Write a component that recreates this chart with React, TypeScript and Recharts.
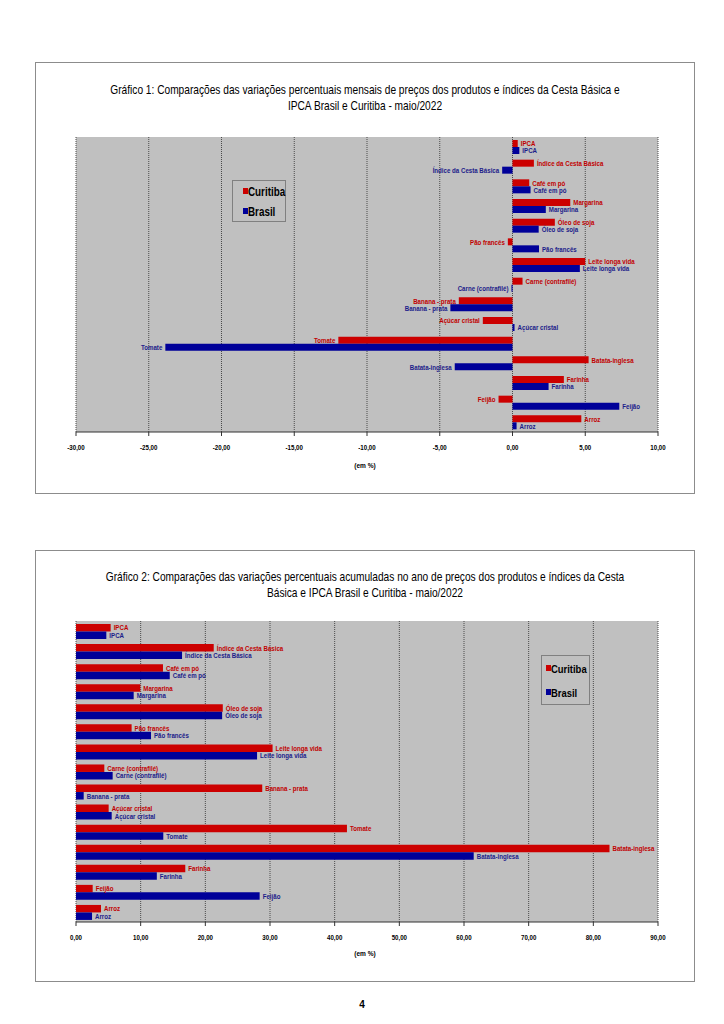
import React from 'react';
import { BarChart, Bar, XAxis, YAxis, CartesianGrid, LabelList } from 'recharts';

const categories = [
  'IPCA',
  'Índice da Cesta Básica',
  'Café em pó',
  'Margarina',
  'Óleo de soja',
  'Pão francês',
  'Leite longa vida',
  'Carne (contrafilé)',
  'Banana - prata',
  'Açúcar cristal',
  'Tomate',
  'Batata-inglesa',
  'Farinha',
  'Feijão',
  'Arroz',
];

const curitibaMensal = [0.36, 1.47, 1.15, 3.97, 2.91, -0.32, 5.0, 0.69, -3.69, -2.04, -11.97, 5.23, 3.53, -0.96, 4.73];
const brasilMensal = [0.47, -0.71, 1.24, 2.29, 1.8, 1.82, 4.63, -0.07, -4.27, 0.14, -23.86, -3.97, 2.48, 7.34, 0.28];

const curitibaAno = [5.36, 21.3, 13.45, 9.95, 22.7, 8.6, 30.4, 4.38, 28.8, 5.05, 41.9, 82.5, 16.9, 2.58, 3.87];
const brasilAno = [4.69, 16.4, 14.5, 8.92, 22.6, 11.6, 28.0, 5.67, 1.19, 5.52, 13.5, 61.5, 12.5, 28.4, 2.48];

const ticksMensal = [-30, -25, -20, -15, -10, -5, 0, 5, 10];
const ticksAno = [0, 10, 20, 30, 40, 50, 60, 70, 80, 90];

const seriesNames = ['Curitiba', 'Brasil'];
const title1 = [
  'Gráfico 1: Comparações das variações percentuais mensais de preços dos produtos e índices da Cesta Básica e',
  'IPCA Brasil e Curitiba - maio/2022',
];
const title2 = [
  'Gráfico 2: Comparações das variações percentuais acumuladas no ano de preços dos produtos e índices da Cesta',
  'Básica e IPCA Brasil e Curitiba - maio/2022',
];
const axisTitle = '(em %)';

const RED = '#cc0000';
const BLUE = '#000099';
const RED_TXT = '#c00000';
const BLUE_TXT = '#1c1c8a';
const FONT = "'Liberation Sans', Arial, sans-serif";
const NARROW_SCALE = 0.82;

const fmt = (v: number) => v.toFixed(2).replace('.', ',');

const buildData = (c: number[], b: number[]) =>
  categories.map((name, i) => ({ name, curitiba: c[i], brasil: b[i] }));

const dataMensal = buildData(curitibaMensal, brasilMensal);
const dataAno = buildData(curitibaAno, brasilAno);

const makeLabel = (values: number[], color: string) => (props: any) => {
  const vb = props.viewBox || {};
  const x = Number(props.x ?? vb.x ?? 0);
  const y = Number(props.y ?? vb.y ?? 0);
  const w = Number(props.width ?? vb.width ?? 0);
  const h = Number(props.height ?? vb.height ?? 0);
  const idx = props.index;
  const val = typeof idx === 'number' ? values[idx] : Number(props.value);
  const name = typeof idx === 'number' ? categories[idx] : '';
  const left = Math.min(x, x + w);
  const right = Math.max(x, x + w);
  const pos = val >= 0;
  const tx = pos ? right + 3 : left - 3;
  return (
    <g transform={`translate(${tx},${y + h / 2}) scale(${NARROW_SCALE},1)`}>
      <text
        x={0}
        y={0}
        textAnchor={pos ? 'start' : 'end'}
        dominantBaseline="central"
        fill={color}
        fontSize={7.5}
        fontWeight="bold"
        fontFamily={FONT}
      >
        {name}
      </text>
    </g>
  );
};

const NarrowTick = (props: any) => {
  const { x, y, payload } = props;
  return (
    <g transform={`translate(${x},${y}) scale(${NARROW_SCALE},1)`}>
      <text x={0} y={0} dy={12} textAnchor="middle" fontSize={7.5} fontWeight="bold" fill="#000" fontFamily={FONT}>
        {fmt(payload.value)}
      </text>
    </g>
  );
};

type LegendProps = {
  left: number;
  top: number;
  width: number;
  height: number;
  itemLeft: number;
  rowCenters: number[];
  fontSize: number;
};

const Legend = ({ left, top, width, height, itemLeft, rowCenters, fontSize }: LegendProps) => (
  <div
    style={{
      position: 'absolute',
      left,
      top,
      width,
      height,
      border: '1px solid #808080',
      boxSizing: 'border-box',
      fontFamily: FONT,
      fontWeight: 'bold',
      fontSize,
      color: '#000',
    }}
  >
    {seriesNames.map((s, i) => (
      <React.Fragment key={s}>
        <span
          style={{
            position: 'absolute',
            left: itemLeft,
            top: rowCenters[i] - 4,
            width: 5,
            height: 6,
            background: i === 0 ? RED : BLUE,
          }}
        />
        <span
          style={{
            position: 'absolute',
            left: itemLeft + 5,
            top: rowCenters[i] - 8,
            lineHeight: '16px',
            whiteSpace: 'nowrap',
            transform: `scaleX(${NARROW_SCALE})`,
            transformOrigin: 'left center',
          }}
        >
          {s}
        </span>
      </React.Fragment>
    ))}
  </div>
);

type PanelProps = {
  top: number;
  title: string[];
  data: any[];
  c: number[];
  b: number[];
  domain: [number, number];
  ticks: number[];
  barSize: number;
  marginTop: number;
  marginBottom: number;
  legend: LegendProps;
  titleTop: number;
  axisTitleTop: number;
};

const Panel = (p: PanelProps) => (
  <div
    style={{
      position: 'absolute',
      left: 27,
      top: p.top,
      width: 660,
      height: 432,
      border: '1px solid #8c8c8c',
      boxSizing: 'border-box',
      background: '#fff',
    }}
  >
    <div
      style={{
        position: 'absolute',
        left: 0,
        top: p.titleTop,
        width: 658,
        textAlign: 'center',
        fontFamily: FONT,
        fontSize: 12.4,
        lineHeight: '16px',
        color: '#000',
        whiteSpace: 'nowrap',
        transform: `scaleX(${NARROW_SCALE})`,
        transformOrigin: 'center',
      }}
    >
      <div>{p.title[0]}</div>
      <div>{p.title[1]}</div>
    </div>
    <div style={{ position: 'absolute', left: -1, top: -1 }}>
      <BarChart
        width={660}
        height={432}
        data={p.data}
        layout="vertical"
        margin={{ top: p.marginTop, right: 37, bottom: p.marginBottom, left: 41 }}
        barGap={0}
        barSize={p.barSize}
      >
        <CartesianGrid
          horizontal={false}
          fill="#c0c0c0"
          stroke="#4a4a4a"
          strokeDasharray="1 1"
          fillOpacity={1}
        />
        <XAxis
          type="number"
          domain={p.domain}
          ticks={p.ticks}
          tickFormatter={fmt}
          interval={0}
          axisLine={{ stroke: '#333' }}
          tickLine={{ stroke: '#333' }}
          tickSize={4}
          tick={<NarrowTick />}
          height={30}
        />
        <YAxis type="category" dataKey="name" hide />
        <Bar dataKey="curitiba" fill={RED} isAnimationActive={false}>
          <LabelList dataKey="curitiba" content={makeLabel(p.c, RED_TXT)} />
        </Bar>
        <Bar dataKey="brasil" fill={BLUE} isAnimationActive={false}>
          <LabelList dataKey="brasil" content={makeLabel(p.b, BLUE_TXT)} />
        </Bar>
      </BarChart>
    </div>
    <div
      style={{
        position: 'absolute',
        left: 0,
        top: p.axisTitleTop,
        width: 658,
        textAlign: 'center',
        fontFamily: FONT,
        fontSize: 8,
        fontWeight: 'bold',
        color: '#000',
        transform: `scaleX(${NARROW_SCALE})`,
      }}
    >
      {axisTitle}
    </div>
    <Legend {...p.legend} />
  </div>
);

export default function App() {
  return (
    <div style={{ position: 'relative', width: 708, height: 1008 }}>
      <Panel
        top={54}
        title={title1}
        data={dataMensal}
        c={curitibaMensal}
        b={brasilMensal}
        domain={[-30, 10]}
        ticks={ticksMensal}
        barSize={7}
        marginTop={75}
        marginBottom={32}
        legend={{ left: 196, top: 117, width: 54, height: 42, itemLeft: 10, rowCenters: [11, 31], fontSize: 12 }}
        titleTop={19}
        axisTitleTop={398}
      />
      <Panel
        top={542}
        title={title2}
        data={dataAno}
        c={curitibaAno}
        b={brasilAno}
        domain={[0, 90]}
        ticks={ticksAno}
        barSize={7.5}
        marginTop={71}
        marginBottom={30}
        legend={{ left: 505, top: 104, width: 49, height: 50, itemLeft: 4, rowCenters: [13, 37], fontSize: 11.5 }}
        titleTop={18}
        axisTitleTop={398}
      />
      <div
        style={{
          position: 'absolute',
          left: 340,
          top: 991,
          width: 28,
          textAlign: 'center',
          fontFamily: FONT,
          fontWeight: 'bold',
          fontSize: 10,
        }}
      >
        4
      </div>
    </div>
  );
}
